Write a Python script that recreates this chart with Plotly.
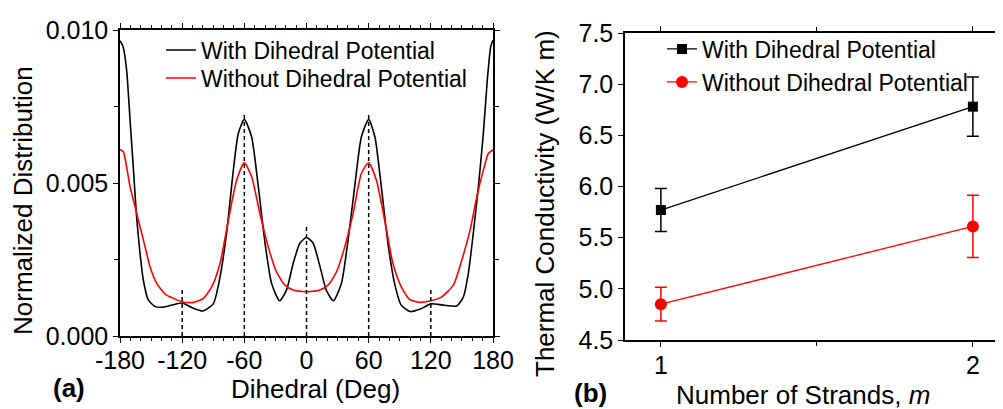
import plotly.graph_objects as go

# (a) dihedral angle distribution
dih_with = [-180, -177, -173.6, -170.3, -167, -164, -160.7, -157.5, -152.7, -146, -140, -130, -120, -110, -100,
            -90, -83.4, -77, -70.6, -65.8, -60, -53, -46.5, -40, -33.7, -26, -19.3, -12.8, -6.4, 0,
            6.4, 12.8, 19.3, 26, 33.7, 40, 46.5, 53, 60, 66, 72.2, 78.6, 85, 91.4, 100,
            110, 120, 132, 145, 151.4, 156.2, 161, 165.9, 170.7, 174.5, 177.8, 180]
dist_with = [9.65, 9.45, 8.69, 7.06, 5.42, 3.90, 2.71, 1.83, 1.18, 0.96, 0.94, 1.01, 1.08, 0.92, 0.82,
             1.05, 1.94, 3.40, 5.42, 6.62, 7.08, 6.51, 4.88, 3.03, 1.72, 1.15, 1.50, 2.38, 3.03, 3.22,
             3.03, 2.30, 1.48, 1.15, 1.72, 3.10, 4.88, 6.51, 7.08, 6.51, 4.88, 3.03, 1.72, 1.01, 0.80,
             0.88, 1.05, 1.01, 0.98, 1.28, 2.05, 3.36, 4.88, 6.62, 8.37, 9.45, 9.67]

dih_without = [-180, -176.8, -173.6, -170.3, -165.5, -160.7, -155.8, -151, -144.6, -136.5, -128.5, -120, -109,
               -99.5, -91.4, -83.4, -75.4, -67.4, -60, -53, -45, -37, -29, -21, -12.8, 0,
               12.8, 21, 29, 37, 45, 53, 60, 67.4, 75.4, 83.4, 91.4, 99.5, 109,
               120, 130.6, 141.9, 149.9, 157.9, 164.4, 170.7, 175.6, 180]
dist_without = [6.10, 6.02, 5.53, 4.88, 4.23, 3.57, 2.92, 2.26, 1.72, 1.37, 1.23, 1.12, 1.10,
                1.23, 1.61, 2.38, 3.79, 5.10, 5.66, 5.21, 4.01, 2.92, 2.10, 1.67, 1.50, 1.45,
                1.50, 1.67, 2.10, 2.92, 4.01, 5.32, 5.66, 5.10, 3.79, 2.38, 1.61, 1.20, 1.10,
                1.15, 1.28, 1.67, 2.48, 3.46, 4.55, 5.42, 5.97, 6.08]

peak_pos = [-120, -60, 0, 60, 120]
peak_top = [1.58, 7.3, 3.6, 7.3, 1.58]

# (b) thermal conductivity
strands = [1, 2]
k_with = [5.77, 6.78]
k_with_err = [0.21, 0.29]
k_without = [4.85, 5.61]
k_without_err = [0.165, 0.305]

FONT = "Liberation Sans, Arial, sans-serif"

# the page body keeps its default 8px margin, so the figure is laid out 8px in
W, H, OFF = 995, 401, 8


def px(x):
    return (x - OFF) / W


def py(y):
    return 1 - (y - OFF) / H


fig = go.Figure()

fig.add_trace(go.Scatter(x=dih_with, y=[v / 1000 for v in dist_with], mode="lines",
                         line=dict(color="black", width=1.6, shape="spline", smoothing=0.6),
                         name="With Dihedral Potential", legend="legend"))
fig.add_trace(go.Scatter(x=dih_without, y=[v / 1000 for v in dist_without], mode="lines",
                         line=dict(color="#ff0000", width=1.6, shape="spline", smoothing=0.6),
                         name="Without Dihedral Potential", legend="legend2"))

# dotted guide lines at the peak positions
gx, gy = [], []
for p, t in zip(peak_pos, peak_top):
    gx += [p, p, None]
    gy += [0, t / 1000, None]
fig.add_trace(go.Scatter(x=gx, y=gy, mode="lines", showlegend=False,
                         line=dict(color="black", width=1.5, dash="4px,3px")))

fig.add_trace(go.Scatter(x=strands, y=k_with, mode="lines+markers", xaxis="x2", yaxis="y2",
                         line=dict(color="black", width=1.3),
                         marker=dict(symbol="square", size=10, color="black"),
                         error_y=dict(type="data", array=k_with_err, color="black", thickness=1.5, width=6),
                         name="With Dihedral Potential", legend="legend3"))
fig.add_trace(go.Scatter(x=strands, y=k_without, mode="lines+markers", xaxis="x2", yaxis="y2",
                         line=dict(color="#ff0000", width=1.3),
                         marker=dict(symbol="circle", size=12, color="#ff0000"),
                         error_y=dict(type="data", array=k_without_err, color="#ff0000", thickness=1.5, width=6),
                         name="Without Dihedral Potential", legend="legend4"))

axis_common = dict(showgrid=False, zeroline=False, showline=True, linecolor="black", linewidth=1.5,
                   ticks="outside", ticklen=5, tickwidth=1.2, tickcolor="black", automargin=False,
                   tickfont=dict(family=FONT, size=25, color="black"))


def leg(x, y):
    return dict(x=px(x), y=py(y), xanchor="left", yanchor="top", bgcolor="rgba(0,0,0,0)",
                font=dict(family=FONT, size=23, color="black"))


fig.update_layout(
    width=W, height=H,
    margin=dict(l=0, r=0, t=0, b=0, autoexpand=False),
    paper_bgcolor="white", plot_bgcolor="white",
    font=dict(family=FONT, color="black"),
    xaxis=dict(domain=[px(120), px(493)], range=[-180, 180], anchor="y", mirror="allticks",
               tickvals=[-180, -120, -60, 0, 60, 120, 180],
               ticktext=["-180", "-120", "-60", "0", "60", "120", "180"],
               ticklabelstandoff=-4,
               minor=dict(tickmode="linear", tick0=-180, dtick=10, ticks="outside", ticklen=3,
                          tickcolor="black"),
               **axis_common),
    yaxis=dict(domain=[py(336), py(30)], range=[0, 0.010], anchor="x", mirror="allticks",
               tickvals=[0, 0.005, 0.010], ticktext=["0.000", "0.005", "0.010"],
               minor=dict(tickmode="array", tickvals=[0.0025, 0.0075], ticks="outside", ticklen=4,
                          tickcolor="black"),
               **axis_common),
    xaxis2=dict(domain=[px(625), 1.0], range=[0.885, 2.0965], anchor="y2", mirror="ticks",
                tickvals=[1, 2], ticktext=["1", "2"],
                ticklabelstandoff=-3,
                minor=dict(tickmode="linear", tick0=1, dtick=0.5, ticks="outside", ticklen=4,
                           tickcolor="black"),
                **axis_common),
    yaxis2=dict(domain=[py(340), py(33)], range=[4.5, 7.5], anchor="x2", mirror=False,
                tickvals=[4.5, 5.0, 5.5, 6.0, 6.5, 7.0, 7.5],
                ticktext=["4.5", "5.0", "5.5", "6.0", "6.5", "7.0", "7.5"],
                **axis_common),
    legend=leg(161, 28.5),
    legend2=leg(161, 56.5),
    legend3=leg(662, 27.5),
    legend4=leg(662, 60.5),
)

annots = [
    dict(text="Normalized Distribution", x=23, y=201, textangle=-90),
    dict(text="Dihedral (Deg)", x=315, y=389, textangle=0),
    dict(text="<b>(a)</b>", x=69, y=388, textangle=0),
    dict(text="Thermal Conductivity (W/K m)", x=545, y=204, textangle=-90),
    dict(text="Number of Strands, <i>m</i>", x=803, y=395, textangle=0),
    dict(text="<b>(b)</b>", x=590, y=393, textangle=0),
]
for a in annots:
    fig.add_annotation(text=a["text"], x=px(a["x"]), y=py(a["y"]), xref="paper", yref="paper",
                       xanchor="center", yanchor="middle", textangle=a["textangle"], showarrow=False,
                       font=dict(family=FONT, size=26, color="black"))

fig.write_html("out.html")
